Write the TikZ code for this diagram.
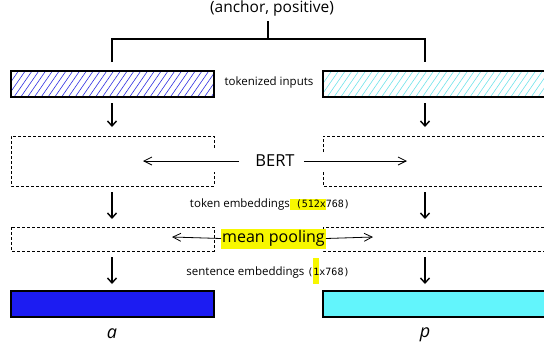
\documentclass[tikz,border=0pt]{standalone}
\usepackage{fontspec}
\setmainfont{Open Sans}
\newfontfamily\codefont{DejaVu Sans Mono}
\usetikzlibrary{arrows.meta}
\definecolor{inkblue}{HTML}{1C1CF2}
\definecolor{hatchblue}{HTML}{3030E0}
\definecolor{inkcyan}{HTML}{62F5FC}
\definecolor{hatchcyan}{HTML}{70E2EA}
\definecolor{marker}{HTML}{F7F700}
\newcommand\markup[1]{{\setlength\fboxsep{0pt}\colorbox{marker}{#1}}}
\newcommand\codesize{\codefont\fontsize{10}{12}\selectfont}
\begin{document}
\begin{tikzpicture}[x=1pt,y=-1pt,
  ink/.style={line width=1.3pt, black},
  down/.style={line width=1.4pt, -{Straight Barb[length=5pt,width=9pt]}},
  side/.style={line width=0.8pt, -{Straight Barb[length=8pt,width=8pt]}},
  slot/.style={anchor=north west, inner sep=0pt, outer sep=0pt,
    minimum width=203pt},
  wideslot/.style={slot, minimum width=226pt},
  dashedge/.style={line width=0.9pt, dash pattern=on 3pt off 2pt},
  hatch/.style={line width=0.6pt},
  big/.style={inner sep=0pt, font=\fontsize{15.5}{17}\selectfont},
  mid/.style={inner sep=0pt, font=\fontsize{11.5}{13}\selectfont},
]
\useasboundingbox (0,0) rectangle (544,349);
\clip (0,0) rectangle (544,349);

% pair splitting into two branches
\node[big, anchor=north] (pair) at (272,1) {(anchor, positive)};
\coordinate (bTop) at (268,21);
\coordinate (bMid) at (268,39);
\coordinate (bL) at (112,39);
\coordinate (bR) at (425,39);
\coordinate (bLd) at (112,62);
\coordinate (bRd) at (425,62);
\draw[ink] (bTop) -- (bMid);
\draw[ink] (bLd) -- (bL) -- (bR) -- (bRd);

% tokenized inputs, hatched
\node[slot, minimum height=26pt] (tokL) at (11,71) {};
\node[wideslot, minimum height=26pt] (tokR) at (323,71) {};
\begin{scope}
  \clip (tokL.north west) rectangle (tokL.south east);
  \foreach \x in {-20,-13.2,...,230}
    \draw[hatch, hatchblue] (\x,97) -- (\x+18,71);
\end{scope}
\begin{scope}
  \clip (tokR.north west) rectangle (tokR.south east);
  \foreach \x in {300,306.8,...,560}
    \draw[hatch, hatchcyan] (\x,97) -- (\x+18,71);
\end{scope}
\draw[ink] (tokL.north west) rectangle (tokL.south east);
\draw[ink] (tokR.north west) rectangle (tokR.south east);
\node[mid] (tokText) at (269,83) {tokenized inputs};

% BERT
\node[slot, minimum height=50pt] (bertL) at (11,136) {};
\node[wideslot, minimum height=50pt] (bertR) at (323,136) {};
\draw[dashedge] ([yshift=-12pt]bertL.north east) -- (bertL.north east)
  -- (bertL.north west) -- (bertL.south west) -- (bertL.south east)
  -- ([yshift=14pt]bertL.south east);
\draw[dashedge] ([yshift=-16pt]bertR.north west) -- (bertR.north west)
  -- (bertR.north east);
\draw[dashedge] ([yshift=14pt]bertR.south west) -- (bertR.south west)
  -- (bertR.south east);
\node[big, font=\fontsize{16.5}{18}\selectfont] (bert) at (275,161) {BERT};
\coordinate (bertTipL) at (143,161);
\coordinate (bertTipR) at (407,161);
\draw[side, shorten <=16pt] (bert.west) -- (bertTipL);
\draw[side, shorten <=9pt] (bert.east) -- (bertTipR);

% mean pooling
\node[slot, minimum height=24pt] (poolL) at (11,227) {};
\node[wideslot, minimum height=24pt] (poolR) at (323,227) {};
\draw[dashedge] (poolL.north west) rectangle (poolL.south east);
\draw[dashedge] (poolR.north east) -- (poolR.north west)
  -- (poolR.south west) -- (poolR.south east);
\node[big, font=\fontsize{16}{18}\selectfont, anchor=west, fill=marker,
  inner xsep=1pt, inner ysep=2pt]
  (pool) at (221,238.5) {mean pooling\hspace{9pt}};
\coordinate (poolTipL) at (172,237);
\coordinate (poolTipR) at (373,237);
\draw[side] (pool.west) -- (poolTipL);
\draw[side] (pool.east) -- (poolTipR);

% embeddings
\node[slot, minimum height=26pt, draw, line width=1.3pt, fill=inkblue]
  (embA) at (11,291) {};
\node[wideslot, minimum height=26pt, draw, line width=1.3pt, fill=inkcyan]
  (embP) at (323,291) {};

\node[mid] (tokEmb) at (270,205)
  {token embeddings\markup{\codesize\rule[-2.5pt]{0pt}{11pt} (512x}{\codesize 768)}};
\node[mid] (sentEmb) at (268,271)
  {sentence embeddings {\codesize(\markup{\rule[-9pt]{0pt}{26pt}1}x768)}};

\node[big, font=\fontsize{18}{20}\selectfont] (a) at (112,334) {\itshape a};
\node[big, font=\fontsize{18}{20}\selectfont] (p) at (425,335) {\itshape p};

% arrows between stages
\coordinate (colL) at (112,0);
\coordinate (colR) at (425,0);
\draw[down, shorten <=6pt, shorten >=9pt] (tokL.south -| colL) -- (bertL.north -| colL);
\draw[down, shorten <=6pt, shorten >=9pt] (tokR.south -| colR) -- (bertR.north -| colR);
\draw[down, shorten <=6pt, shorten >=8pt] (bertL.south -| colL) -- (poolL.north -| colL);
\draw[down, shorten <=6pt, shorten >=8pt] (bertR.south -| colR) -- (poolR.north -| colR);
\draw[down, shorten <=6pt, shorten >=7pt] (poolL.south -| colL) -- (embA.north -| colL);
\draw[down, shorten <=6pt, shorten >=7pt] (poolR.south -| colR) -- (embP.north -| colR);
\end{tikzpicture}
\end{document}
